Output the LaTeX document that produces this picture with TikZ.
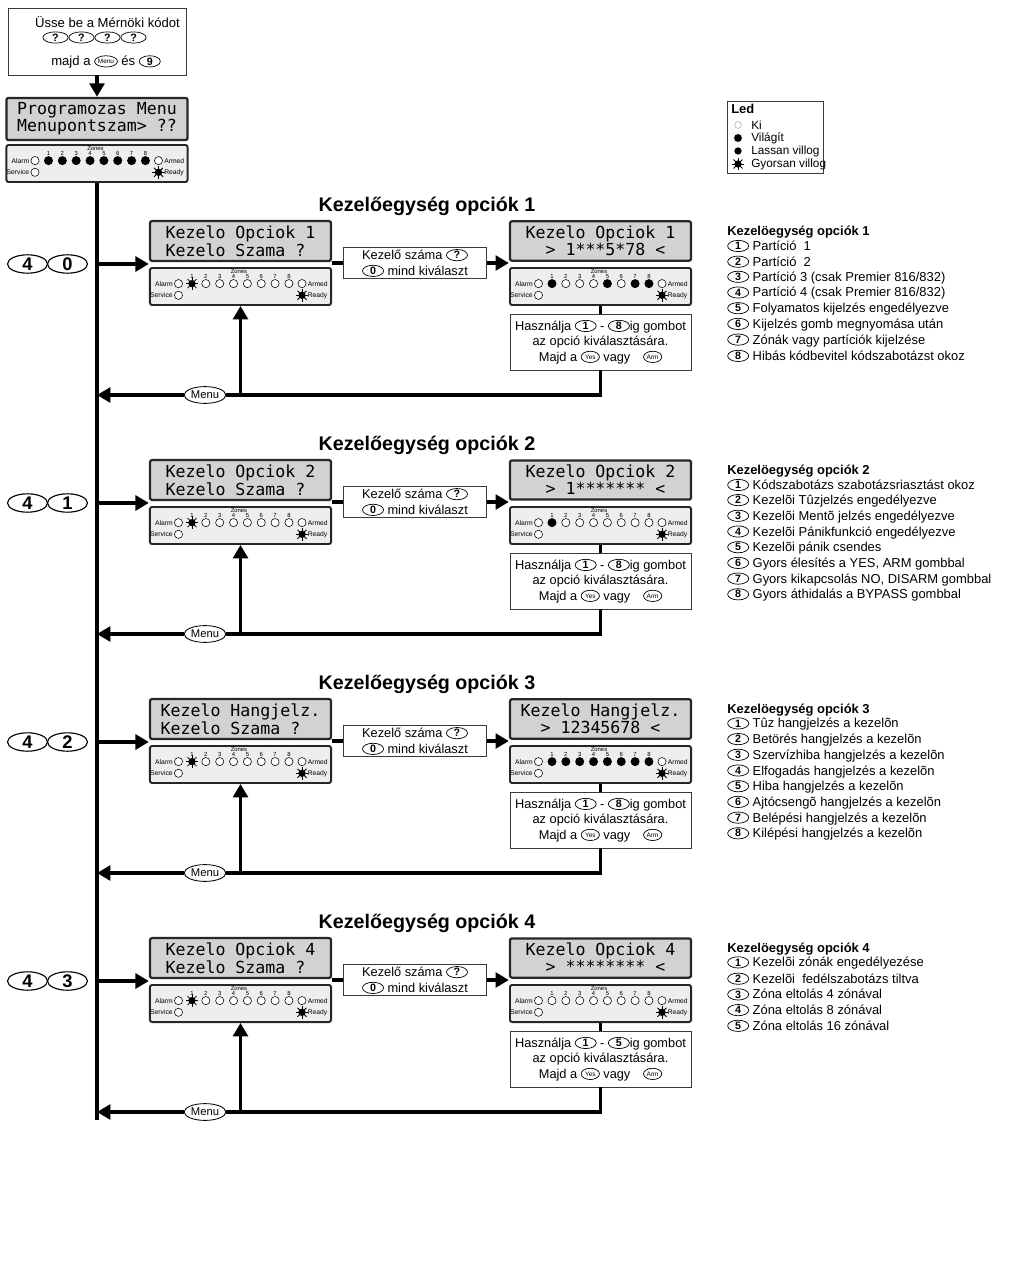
\documentclass[tikz,border=0pt]{standalone}
\usepackage{fontspec}
\setmainfont{Liberation Sans}
\newfontfamily\lcdfont{DejaVu Sans Mono}
\usepackage{tikz}
\usetikzlibrary{shapes.geometric,arrows.meta,positioning,calc}
\definecolor{lcdgray}  {HTML}{D2D2D2}
\definecolor{panelgray}{HTML}{EEEEEE}
\definecolor{boxline}  {HTML}{3A3A3A}

%% dot-matrix display text, full width spaces
\DeclareRobustCommand\lcdtext{\lcdfont\fontsize{11.8}{10.7}\selectfont\spaceskip=7.1pt\relax}

%% one LED at the origin of the scope: 0 off, 1 on, 2 fast flashing
\newcommand\ledmark[1]{%
  \ifcase#1
    \draw[line width=.4pt,fill=white] (0,0) circle[radius=2.9pt];%
  \or
    \fill (0,0) circle[radius=3.2pt];%
  \or
    \fill (0,0) circle[radius=2.6pt];%
    \foreach \a in {0,45,...,315}
      \draw[line width=.6pt] (\a:1.5pt) -- (\a:4.5pt);%
  \fi}

%% keypad LED panel: name, position, zone states, ready state
\newcommand\ledpanel[4]{%
  \node[ledbox] (#1) at #2 {};
  \begin{scope}[shift={(#1.north west)}]
    \node[zlbl] (#1z) at (90,4.3) {Zones};
    \node[plbl,anchor=east] (#1al) at (24,16.6) {Alarm};
    \node[plbl,anchor=east] (#1sv) at (24,28.3) {Service};
    \node[plbl,anchor=west] (#1ar) at (158.5,16.6) {Armed};
    \node[plbl,anchor=west] (#1rd) at (158.5,28.3) {Ready};
    \begin{scope}[shift={(29.5,16.6)}]\ledmark{0}\end{scope}
    \begin{scope}[shift={(29.5,28.3)}]\ledmark{0}\end{scope}
    \begin{scope}[shift={(153,16.6)}]\ledmark{0}\end{scope}
    \begin{scope}[shift={(153,28.3)}]\ledmark{#4}\end{scope}
    \foreach \st [count=\i] in {#3} {
      \node[zlbl] (#1n\i) at ({43+13.85*(\i-1)},9.6) {\i};
      \begin{scope}[shift={({43+13.85*(\i-1)},16.6)}]\ledmark{\st}\end{scope}
    }
  \end{scope}}

%% keys printed inside the text
\newcommand\kb[2][15pt]{\tikz[baseline={([yshift=-3.2pt]kk.center)}]\node[keyo=#1] (kk) {#2};}
\newcommand\kbs[2][13pt]{\tikz[baseline={([yshift=-3.2pt]kk.center)}]\node[keyo=#1,font=\fontsize{4.6}{4.6}\selectfont] (kk) {#2};}

\begin{document}
\begin{tikzpicture}[
  x=0.025cm, y=-0.025cm,
  lcd/.style    ={draw=black!85,line width=1.6pt,fill=lcdgray,rounded corners=1.5pt,
                  minimum width=4.525cm,inner xsep=2pt,minimum height=0.9cm,align=left,
                  font=\lcdtext},
  ledbox/.style ={draw=black!85,line width=1.4pt,fill=panelgray,rounded corners=1.5pt,
                  minimum width=4.525cm,minimum height=0.925cm,inner sep=0pt},
  plbl/.style   ={inner sep=0pt,font=\fontsize{4.8}{5}\selectfont},
  zlbl/.style   ={inner sep=0pt,font=\fontsize{4.2}{4.5}\selectfont},
  midbox/.style ={draw=boxline,line width=.6pt,fill=white,minimum width=3.575cm,
                  minimum height=0.75cm,align=center,inner sep=1pt,
                  font=\fontsize{9.1}{11.2}\selectfont},
  helpbox/.style={midbox,minimum width=4.525cm,minimum height=1.4cm,
                  font=\fontsize{9.1}{11}\selectfont},
  topbox/.style ={draw=boxline,line width=.6pt,minimum width=4.45cm,minimum height=1.675cm},
  legbox/.style ={draw=boxline,line width=.6pt,minimum width=2.4cm,minimum height=1.8cm},
  txt/.style    ={inner sep=0pt,font=\fontsize{9.3}{11}\selectfont},
  keyo/.style   ={draw,ellipse,line width=.5pt,fill=white,minimum width=#1,
                  minimum height=8pt,inner sep=0pt,font=\fontsize{7.6}{7.6}\selectfont\bfseries},
  keyo/.default =15pt,
  bigkey/.style ={draw,ellipse,line width=.8pt,minimum width=1.0cm,minimum height=0.46cm,
                  inner sep=0pt,font=\fontsize{13}{13}\selectfont\bfseries},
  menukey/.style={draw,ellipse,line width=.6pt,fill=white,minimum width=1.04cm,
                  minimum height=0.42cm,inner sep=0pt,font=\fontsize{8}{8}\selectfont},
  title/.style  ={inner sep=0pt,font=\fontsize{14}{16}\selectfont\bfseries},
  lhead/.style  ={anchor=west,inner sep=0pt,font=\fontsize{9.2}{11}\selectfont\bfseries},
  litem/.style  ={anchor=west,inner sep=0pt,font=\fontsize{9.2}{11}\selectfont},
  legt/.style   ={anchor=west,inner sep=0pt,font=\fontsize{8.4}{10}\selectfont},
  thk/.style    ={line width=2.4pt},
  arr/.style    ={thk,-{Triangle[length=9.5pt,width=10.5pt]}}
]
\useasboundingbox (0,0) rectangle (1024,1266);
%% Engineer code entry
\node[topbox] (eng) at (97,41.5) {};
\node[txt] (eng1) at (107.5,22) {Üsse be a Mérnöki kódot};
\node[txt] (eng2) at (94.5,37.5) {\kb[18pt]{?}\kb[18pt]{?}\kb[18pt]{?}\kb[18pt]{?}};
\node[txt] (eng3) at (106,62) {majd a \kbs[10.5pt]{Menu} és \kb{9}};
%% Programming menu
\node[lcd] (p0d) at (97,119) {Programozas Menu\\Menupontszam> ??};
\ledpanel{p0}{(97,163.5)}{1,1,1,1,1,1,1,1}{2}
\draw[arr] (eng) -- (p0d);
\coordinate (spineend) at (97,1120);
\draw[thk] (p0) -- (spineend);
%% LED legend
\node[legbox] (leg) at (775,137.5) {};
\node[lhead] (legh) at (731,108.5) {Led};
\draw[gray!55,line width=.5pt,fill=white] (738,125) circle[radius=2.4pt];
\fill (738,138) circle[radius=2.8pt];
\fill (738,151) circle[radius=2.6pt];
\begin{scope}[shift={(738,164)}]\ledmark{2}\end{scope}
\node[legt] (leg1) at (751,125) {Ki};
\node[legt] (leg2) at (751,138) {Világít};
\node[legt] (leg3) at (751,151) {Lassan villog};
\node[legt] (leg4) at (751,164) {Gyorsan villog};

%% Kezelőegység opciók 1
\node[title] (t1) at (427,206) {Kezelőegység opciók 1};
\node[bigkey] (k1a) at (27.5,264) {4};
\node[bigkey] (k1b) at (67.5,264) {0};
\node[lcd] (l1d) at (240.5,241) {Kezelo Opciok 1\\Kezelo Szama ?};
\ledpanel{l1p}{(240.5,286.5)}{2,0,0,0,0,0,0,0}{2}
\node[midbox] (m1) at (415,263) {Kezelő száma \kb{?}\\\kb{0} mind kiválaszt};
\node[lcd] (r1d) at (600.5,241) {Kezelo Opciok 1\\\hphantom{XX}> 1***5*78 <};
\ledpanel{r1p}{(600.5,286.5)}{1,0,0,0,1,0,1,1}{2}
\node[helpbox] (h1) at (600.5,342)
  {Használja \kb{1} - \kb{8}ig gombot\\az opció kiválasztására.\\Majd a \kbs{Yes} vagy\quad\kbs{Arm}};
\node[menukey] (mn1) at (205,395) {Menu};
\draw[arr] (k1b -| p0) -- (k1b -| l1d.west);
\draw[thk] (l1d.east |- m1) -- (m1);
\draw[arr] (m1) -- (m1 -| r1d.west);
\draw[thk] (r1p) -- (h1);
\draw[thk] (h1) |- (mn1);
\draw[arr] (mn1) -- (mn1 -| p0);
\draw[arr] (mn1 -| l1p) -- (l1p);
\node[lhead] (o1) at (727,232) {Kezelöegység opciók 1};
\foreach \txt [count=\i] in {Partíció\ \ 1, Partíció\ \ 2, Partíció 3 (csak Premier 816/832),
    Partíció 4 (csak Premier 816/832), Folyamatos kijelzés engedélyezve,
    Kijelzés gomb megnyomása után, Zónák vagy partíciók kijelzése,
    Hibás kódbevitel kódszabotázst okoz}
  \node[litem] (o1i\i) at (727,{246+15.7*(\i-1)}) {\kb{\i} \txt};

%% Kezelőegység opciók 2
\node[title] (t2) at (427,445) {Kezelőegység opciók 2};
\node[bigkey] (k2a) at (27.5,503) {4};
\node[bigkey] (k2b) at (67.5,503) {1};
\node[lcd] (l2d) at (240.5,480) {Kezelo Opciok 2\\Kezelo Szama ?};
\ledpanel{l2p}{(240.5,525.5)}{2,0,0,0,0,0,0,0}{2}
\node[midbox] (m2) at (415,502) {Kezelő száma \kb{?}\\\kb{0} mind kiválaszt};
\node[lcd] (r2d) at (600.5,480) {Kezelo Opciok 2\\\hphantom{XX}> 1******* <};
\ledpanel{r2p}{(600.5,525.5)}{1,0,0,0,0,0,0,0}{2}
\node[helpbox] (h2) at (600.5,581)
  {Használja \kb{1} - \kb{8}ig gombot\\az opció kiválasztására.\\Majd a \kbs{Yes} vagy\quad\kbs{Arm}};
\node[menukey] (mn2) at (205,634) {Menu};
\draw[arr] (k2b -| p0) -- (k2b -| l2d.west);
\draw[thk] (l2d.east |- m2) -- (m2);
\draw[arr] (m2) -- (m2 -| r2d.west);
\draw[thk] (r2p) -- (h2);
\draw[thk] (h2) |- (mn2);
\draw[arr] (mn2) -- (mn2 -| p0);
\draw[arr] (mn2 -| l2p) -- (l2p);
\node[lhead] (o2) at (727,471) {Kezelöegység opciók 2};
\foreach \txt [count=\i] in {Kódszabotázs szabotázsriasztást okoz, Kezelõi Tûzjelzés engedélyezve,
    Kezelõi Mentõ jelzés engedélyezve, Kezelõi Pánikfunkció engedélyezve,
    Kezelõi pánik csendes, {Gyors élesítés a YES, ARM gombbal},
    {Gyors kikapcsolás NO, DISARM gombbal}, Gyors áthidalás a BYPASS gombbal}
  \node[litem] (o2i\i) at (727,{485+15.7*(\i-1)}) {\kb{\i} \txt};

%% Kezelőegység opciók 3
\node[title] (t3) at (427,684) {Kezelőegység opciók 3};
\node[bigkey] (k3a) at (27.5,742) {4};
\node[bigkey] (k3b) at (67.5,742) {2};
\node[lcd] (l3d) at (240.5,719) {Kezelo Hangjelz.\\Kezelo Szama ?};
\ledpanel{l3p}{(240.5,764.5)}{2,0,0,0,0,0,0,0}{2}
\node[midbox] (m3) at (415,741) {Kezelő száma \kb{?}\\\kb{0} mind kiválaszt};
\node[lcd] (r3d) at (600.5,719) {Kezelo Hangjelz.\\\hphantom{XX}> 12345678 <};
\ledpanel{r3p}{(600.5,764.5)}{1,1,1,1,1,1,1,1}{2}
\node[helpbox] (h3) at (600.5,820)
  {Használja \kb{1} - \kb{8}ig gombot\\az opció kiválasztására.\\Majd a \kbs{Yes} vagy\quad\kbs{Arm}};
\node[menukey] (mn3) at (205,873) {Menu};
\draw[arr] (k3b -| p0) -- (k3b -| l3d.west);
\draw[thk] (l3d.east |- m3) -- (m3);
\draw[arr] (m3) -- (m3 -| r3d.west);
\draw[thk] (r3p) -- (h3);
\draw[thk] (h3) |- (mn3);
\draw[arr] (mn3) -- (mn3 -| p0);
\draw[arr] (mn3 -| l3p) -- (l3p);
\node[lhead] (o3) at (727,710) {Kezelöegység opciók 3};
\foreach \txt [count=\i] in {Tûz hangjelzés a kezelõn, Betörés hangjelzés a kezelõn,
    Szervízhiba hangjelzés a kezelõn, Elfogadás hangjelzés a kezelõn,
    Hiba hangjelzés a kezelõn, Ajtócsengõ hangjelzés a kezelõn,
    Belépési hangjelzés a kezelõn, Kilépési hangjelzés a kezelõn}
  \node[litem] (o3i\i) at (727,{724+15.7*(\i-1)}) {\kb{\i} \txt};

%% Kezelőegység opciók 4
\node[title] (t4) at (427,923) {Kezelőegység opciók 4};
\node[bigkey] (k4a) at (27.5,981) {4};
\node[bigkey] (k4b) at (67.5,981) {3};
\node[lcd] (l4d) at (240.5,958) {Kezelo Opciok 4\\Kezelo Szama ?};
\ledpanel{l4p}{(240.5,1003.5)}{2,0,0,0,0,0,0,0}{2}
\node[midbox] (m4) at (415,980) {Kezelő száma \kb{?}\\\kb{0} mind kiválaszt};
\node[lcd] (r4d) at (600.5,958) {Kezelo Opciok 4\\\hphantom{XX}> ******** <};
\ledpanel{r4p}{(600.5,1003.5)}{0,0,0,0,0,0,0,0}{2}
\node[helpbox] (h4) at (600.5,1059)
  {Használja \kb{1} - \kb{5}ig gombot\\az opció kiválasztására.\\Majd a \kbs{Yes} vagy\quad\kbs{Arm}};
\node[menukey] (mn4) at (205,1112) {Menu};
\draw[arr] (k4b -| p0) -- (k4b -| l4d.west);
\draw[thk] (l4d.east |- m4) -- (m4);
\draw[arr] (m4) -- (m4 -| r4d.west);
\draw[thk] (r4p) -- (h4);
\draw[thk] (h4) |- (mn4);
\draw[arr] (mn4) -- (mn4 -| p0);
\draw[arr] (mn4 -| l4p) -- (l4p);
\node[lhead] (o4) at (727,949) {Kezelöegység opciók 4};
\foreach \txt [count=\i] in {Kezelõi zónák engedélyezése, Kezelõi\ \ fedélszabotázs tiltva,
    Zóna eltolás 4 zónával, Zóna eltolás 8 zónával, Zóna eltolás 16 zónával}
  \node[litem] (o4i\i) at (727,{963+15.7*(\i-1)}) {\kb{\i} \txt};
\end{tikzpicture}
\end{document}
